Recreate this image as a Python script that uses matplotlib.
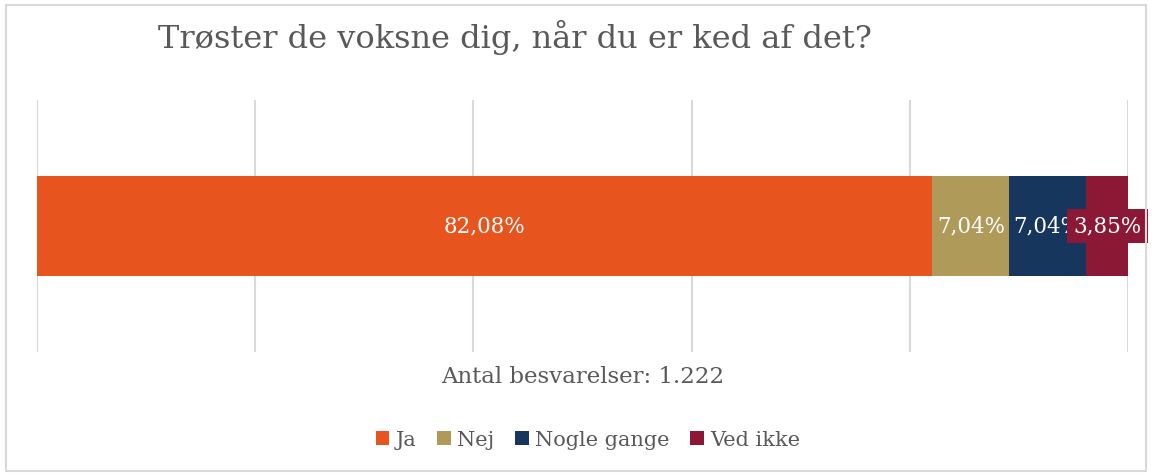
import matplotlib
matplotlib.use("Agg")
import matplotlib.pyplot as plt
from matplotlib.patches import Patch, Rectangle

# data
categories = ["Ja", "Nej", "Nogle gange", "Ved ikke"]
values = [82.08, 7.04, 7.04, 3.85]
labels = ["82,08%", "7,04%", "7,04%", "3,85%"]
colors = ["#E8541E", "#B09A5A", "#17365D", "#8B1834"]

title = "Trøster de voksne dig, når du er ked af det?"
xlabel = "Antal besvarelser: 1.222"

plt.rcParams["font.family"] = ["DejaVu Serif"]
text_gray = "#595959"

fig = plt.figure(figsize=(11.52, 4.76), dpi=100)
ax = fig.add_axes([37 / 1152, 1 - 352 / 476, 1091 / 1152, 252 / 476])

left = 0
for i, (cat, v, lab, c) in enumerate(zip(categories, values, labels, colors)):
    ax.barh(0, v, left=left, height=0.4, color=c, zorder=2)
    if i == len(values) - 1:
        # last label sits on its own box, drawn over the neighbour's label
        ax.text(left + v / 2, 0, lab, ha="center", va="center", color="white",
                fontsize=15.5, zorder=5,
                bbox=dict(boxstyle="square,pad=0.3", facecolor=c, edgecolor="none"))
    else:
        ax.text(left + v / 2, 0, lab, ha="center", va="center", color="white",
                fontsize=15.5, zorder=3)
    left += v

ax.set_xlim(0, 100)
ax.set_ylim(-0.5, 0.5)
ax.set_xticks([0, 20, 40, 60, 80, 100])
ax.grid(axis="x", color="#D9D9D9", linewidth=1.5, zorder=0)
ax.tick_params(length=0, labelbottom=False, labelleft=False)
ax.set_yticks([])
for s in ax.spines.values():
    s.set_visible(False)
ax.set_xlabel(xlabel, fontsize=16.5, color=text_gray, labelpad=10)

fig.text(515 / 1152, 1 - 38 / 476, title, ha="center", va="center",
         fontsize=23, color=text_gray)

handles = [Patch(facecolor=c, edgecolor="none") for c in colors]
fig.legend(handles, categories, loc="center", bbox_to_anchor=(588 / 1152, 1 - 440 / 476),
           ncol=4, frameon=False, fontsize=15, labelcolor=text_gray,
           handlelength=0.65, handleheight=0.65, handletextpad=0.3, columnspacing=1.0)

fig.patches.append(Rectangle((6 / 1152, 5 / 476), 1140 / 1152, 466 / 476,
                             transform=fig.transFigure, fill=False,
                             edgecolor="#D9D9D9", linewidth=1.5))

fig.savefig("out.png", dpi=100)
